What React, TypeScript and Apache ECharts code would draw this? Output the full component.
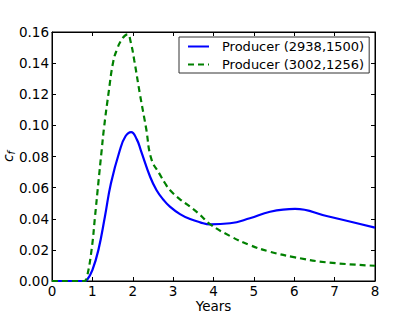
import React, { useEffect, useRef } from "react";
import * as echarts from "echarts";

const seriesNames = ["Producer (2938,1500)", "Producer (3002,1256)"];
const blueYears = [0, 0.8, 0.87, 1.0, 1.15, 1.31, 1.46, 1.68, 1.82, 1.96, 2.1, 2.2, 2.43, 2.59, 2.76, 2.92, 3.17, 3.42, 3.67, 3.91, 4.41, 4.9, 5.4, 6.02, 6.8, 8];
const blueValues = [0, 0, 0.0008, 0.007, 0.02, 0.0413, 0.0628, 0.084, 0.093, 0.0957, 0.091, 0.084, 0.067, 0.0583, 0.0522, 0.0478, 0.043, 0.0398, 0.0377, 0.0364, 0.0371, 0.0403, 0.0445, 0.0463, 0.0418, 0.0343];
const greenYears = [0, 0.8, 0.86, 0.98, 1.065, 1.147, 1.23, 1.288, 1.395, 1.52, 1.62, 1.7, 1.8, 1.875, 1.95, 2.04, 2.18, 2.33, 2.46, 2.67, 2.8, 2.92, 3.17, 3.42, 3.67, 3.91, 4.41, 4.9, 5.4, 6.02, 6.8, 8];
const greenValues = [0, 0, 0.002, 0.02, 0.0413, 0.0628, 0.084, 0.0983, 0.1197, 0.1414, 0.1495, 0.154, 0.1575, 0.1585, 0.1535, 0.1414, 0.1197, 0.0983, 0.0785, 0.0685, 0.0628, 0.0585, 0.0525, 0.0478, 0.0424, 0.0366, 0.0289, 0.0231, 0.0188, 0.0152, 0.012, 0.0098];

const FONT = "DejaVu Sans";

export default function App() {
  const ref = useRef<HTMLDivElement>(null);
  useEffect(() => {
    if (!ref.current) return;
    const chart = echarts.init(ref.current, undefined, { renderer: "svg" });
    const tickStyle = { show: true, inside: true, length: 4, lineStyle: { color: "#000", width: 1 } };
    const baseX = {
      type: "value" as const,
      min: 0,
      max: 8,
      interval: 1,
      splitLine: { show: false },
      axisLine: { show: true, onZero: false, lineStyle: { color: "#000", width: 1 } },
      axisTick: tickStyle,
    };
    const baseY = {
      type: "value" as const,
      min: 0,
      max: 0.16,
      interval: 0.02,
      splitLine: { show: false },
      axisLine: { show: true, onZero: false, lineStyle: { color: "#000", width: 1 } },
      axisTick: tickStyle,
    };
    chart.setOption({
      animation: false,
      backgroundColor: "#fff",
      grid: {
        left: 52,
        right: 42,
        top: 32,
        bottom: 32,
        containLabel: false,
        outerBoundsMode: "none",
        show: true,
        borderColor: "#000",
        borderWidth: 1,
        backgroundColor: "transparent",
      },
      legend: {
        left: 179,
        top: 37,
        orient: "vertical",
        data: seriesNames,
        backgroundColor: "#fff",
        borderColor: "#333",
        borderWidth: 1,
        borderRadius: 0,
        padding: [3, 5, 2, 8],
        itemWidth: 21,
        itemHeight: 14,
        itemGap: 5,
        itemStyle: { opacity: 0 },
        textStyle: { fontFamily: FONT, fontSize: 13, color: "#000", padding: [0, 0, 0, 8] },
      },
      xAxis: [
        {
          ...baseX,
          position: "bottom",
          axisLabel: { color: "#000", fontFamily: FONT, fontSize: 13.5, margin: 3, lineHeight: 13 },
          name: "Years",
          nameLocation: "middle",
          nameGap: 18,
          nameMoveOverlap: false,
          nameTextStyle: { color: "#000", fontFamily: FONT, fontSize: 13.5, lineHeight: 14 },
        },
        { ...baseX, position: "top", axisLabel: { show: false } },
      ],
      yAxis: [
        {
          ...baseY,
          position: "left",
          axisLabel: {
            color: "#000",
            fontFamily: FONT,
            fontSize: 13.5,
            margin: 3,
            formatter: (v: number) => v.toFixed(2),
          },
          name: "{c|c}{f|f}",
          nameLocation: "middle",
          nameGap: 36,
          nameRotate: 90,
          nameMoveOverlap: false,
          nameTextStyle: {
            rich: {
              c: { fontFamily: FONT, fontStyle: "italic", fontSize: 14, color: "#000", lineHeight: 16, verticalAlign: "middle" },
              f: { fontFamily: FONT, fontStyle: "italic", fontSize: 10, color: "#000", lineHeight: 10, verticalAlign: "bottom" },
            },
          },
        },
        { ...baseY, position: "right", axisLabel: { show: false } },
      ],
      series: [
        {
          name: seriesNames[0],
          type: "line",
          xAxisIndex: 0,
          yAxisIndex: 0,
          smooth: 0.45,
          symbol: "none",
          data: blueYears.map((x, i) => [x, blueValues[i]]),
          lineStyle: { color: "#0000ff", width: 2.2 },
          itemStyle: { color: "#0000ff" },
        },
        {
          name: seriesNames[1],
          type: "line",
          xAxisIndex: 0,
          yAxisIndex: 0,
          smooth: 0.45,
          symbol: "none",
          data: greenYears.map((x, i) => [x, greenValues[i]]),
          lineStyle: { color: "#008000", width: 2.2, type: [6, 4] },
          itemStyle: { color: "#008000" },
        },
        {
          name: "_frame",
          type: "line",
          xAxisIndex: 1,
          yAxisIndex: 1,
          symbol: "none",
          silent: true,
          data: [[0, 0]],
          lineStyle: { opacity: 0 },
        },
      ],
    });
    return () => chart.dispose();
  }, []);
  return <div ref={ref} style={{ width: 417, height: 313, position: "absolute", left: 0, top: 0 }} />;
}
